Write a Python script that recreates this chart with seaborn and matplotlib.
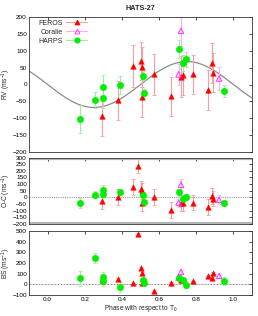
import numpy as np
import pandas as pd
import matplotlib
matplotlib.use("Agg")
import matplotlib.pyplot as plt
from matplotlib.lines import Line2D
import seaborn as sns

# ---------------- data ----------------
feros_phase = [0.295, 0.377, 0.457, 0.486, 0.504, 0.507, 0.509, 0.570, 0.663, 0.716, 0.727, 0.784, 0.861, 0.884, 0.891]
feros_rv    = [-94, -47, 55, 231, 70, 52, -37, 30, -35, 23, 29, 30, -16, 64, 35]
feros_rverr = [59, 58, 61, 50, 57, 60, 58, 61, 58, 60, 59, 58, 59, 60, 58]
feros_oc    = [-26, 3, 79, 237, 66, 45, -42, 3, -95, -42, -40, -40, -70, 13, -10]
feros_bs    = [40, 52, 9, 470, 152, 104, 12, -64, 15, 45, 40, 27, 76, 61, 104]
feros_bserr = [8, 8, 8, 8, 8, 8, 8, 8, 8, 8, 8, 8, 8, 8, 8]

coralie_phase = [0.705, 0.718, 0.923]
coralie_rv    = [30, 159, 18]
coralie_rverr = [30, 45, 35]
coralie_oc    = [-39, 95, -18]
coralie_bs    = [64, 116, 79]
coralie_bserr = [20, 20, 20]

harps_phase = [0.173, 0.255, 0.300, 0.300, 0.391, 0.511, 0.521, 0.707, 0.727, 0.743, 0.950]
harps_rv    = [-103, -46, -8, -40, -2, 26, -26, 106, 63, 75, -19]
harps_rverr = [41, 24, 35, 30, 26, 14, 13, 27, 24, 22, 19]
harps_oc    = [-42, 21, 55, 24, 39, 18, -37, 37, -10, 0, -42]
harps_bs    = [58, 247, 73, 27, -27, 37, 15, 55, 43, -3, 30]
harps_bserr = [70, 45, 45, 40, 45, 25, 20, 30, 30, 35, 35]

model_K = 68.0  # RV semi-amplitude of the circular orbit model (m/s)

title = "HATS-27"
x_ticks = [0.0, 0.2, 0.4, 0.6, 0.8, 1.0]

# ---------------- style ----------------
sns.set_style("white")
plt.rcParams["font.family"] = ["Liberation Sans", "DejaVu Sans"]
plt.rcParams["mathtext.fontset"] = "custom"
plt.rcParams["mathtext.rm"] = "Liberation Sans"
plt.rcParams["mathtext.it"] = "Liberation Sans"

styles = {
    "FEROS":   dict(mcolor="#ff0000", ecolor="#f4a0a0", marker="^", filled=True, size=16),
    "Coralie": dict(mcolor="#ff33ff", ecolor="#ffaaff", marker="^", filled=False, size=16),
    "HARPS":   dict(mcolor="#00ee00", ecolor="#a0eea0", marker="o", filled=True, size=22),
}

def make_df(name, phase, rv, rverr, oc, bs, bserr):
    return pd.DataFrame(dict(inst=name, phase=phase, rv=rv, rverr=rverr,
                             oc=oc, bs=bs, bserr=bserr))

data = pd.concat([
    make_df("FEROS", feros_phase, feros_rv, feros_rverr, feros_oc, feros_bs, feros_bserr),
    make_df("Coralie", coralie_phase, coralie_rv, coralie_rverr, coralie_oc, coralie_bs, coralie_bserr),
    make_df("HARPS", harps_phase, harps_rv, harps_rverr, harps_oc, harps_bs, harps_bserr),
], ignore_index=True)

W, H = 258, 316
fig = plt.figure(figsize=(W / 100, H / 100), dpi=100)

def axes_px(top, bottom, left=29, right=252):
    return fig.add_axes([left / W, 1 - bottom / H, (right - left) / W, (bottom - top) / H])

ax_rv = axes_px(17, 152)
ax_oc = axes_px(157.5, 224)
ax_bs = axes_px(231, 295)

def draw_panel(ax, ycol, ecol, ylim):
    for name in ["FEROS", "Coralie", "HARPS"]:
        st = styles[name]
        d = data[data.inst == name]
        d = d[(d[ycol] >= ylim[0]) & (d[ycol] <= ylim[1])]
        ax.errorbar(d["phase"], d[ycol], yerr=d[ecol], fmt="none",
                    ecolor=st["ecolor"], elinewidth=0.8, capsize=1.2, capthick=0.6, zorder=2)
    for name in ["FEROS", "Coralie", "HARPS"]:
        st = styles[name]
        d = data[data.inst == name]
        d = d[(d[ycol] >= ylim[0]) & (d[ycol] <= ylim[1])]
        if st["filled"]:
            sns.scatterplot(data=d, x="phase", y=ycol, ax=ax, marker=st["marker"],
                            color=st["mcolor"], edgecolor=st["mcolor"], s=st["size"],
                            linewidth=0.3, zorder=3, legend=False)
        else:
            sns.scatterplot(data=d, x="phase", y=ycol, ax=ax, marker=st["marker"],
                            facecolor="none", edgecolor=st["mcolor"], s=st["size"],
                            linewidth=0.7, zorder=3, legend=False)
    ax.set_ylim(*ylim)
    ax.set_xlim(-0.1, 1.1)
    ax.set_xticks(x_ticks)
    ax.set_xlabel("")
    ax.set_ylabel("")
    ax.tick_params(direction="in", top=True, right=True, length=2.2, width=0.5,
                   labelsize=4.6, pad=1.5, colors="black")
    for sp in ax.spines.values():
        sp.set_linewidth(0.6)
        sp.set_color("#333333")

# ---- RV panel ----
model = pd.DataFrame({"phase": np.linspace(-0.1, 1.1, 400)})
model["rv"] = -model_K * np.sin(2 * np.pi * model["phase"])
sns.lineplot(data=model, x="phase", y="rv", ax=ax_rv, color="#8c8c8c", lw=0.9, zorder=1)
draw_panel(ax_rv, "rv", "rverr", (-200, 200))
ax_rv.set_yticks(np.arange(-200, 201, 50))
ax_rv.tick_params(labelbottom=False)
ax_rv.set_ylabel("RV (ms$^{-1}$)", fontsize=4.8)
ax_rv.yaxis.set_label_coords(-0.072, 0.5)
ax_rv.set_title(title, fontsize=5.2, fontweight="bold", pad=5)

handles = []
for name in ["FEROS", "Coralie", "HARPS"]:
    st = styles[name]
    handles.append(Line2D([], [], color=st["ecolor"], lw=0.8, marker=st["marker"],
                          markersize=3.8 if st["marker"] == "o" else 3.5,
                          markerfacecolor=st["mcolor"] if st["filled"] else "none",
                          markeredgecolor=st["mcolor"], markeredgewidth=0.6, label=name))
ax_rv.legend(handles=handles, loc="upper left", bbox_to_anchor=(0.035, 0.99),
             markerfirst=False, frameon=False, fontsize=5.0, handlelength=3.0,
             handletextpad=0.5, labelspacing=0.3, borderaxespad=0.1,
             borderpad=0.1)

# ---- O-C panel ----
ax_oc.axhline(0, color="#999999", lw=0.8, ls=(0, (1, 1)), zorder=1)
ax_oc.axhline(300, color="#b5b5b5", lw=3, zorder=1)
ax_oc.axhline(-200, color="#b5b5b5", lw=3, zorder=1)
draw_panel(ax_oc, "oc", "rverr", (-200, 300))
ax_oc.set_yticks(np.arange(-200, 301, 50))
ax_oc.tick_params(labelbottom=False)
ax_oc.set_ylabel("O-C (ms$^{-1}$)", fontsize=4.8)
ax_oc.yaxis.set_label_coords(-0.072, 0.5)

# ---- BS panel ----
ax_bs.axhline(0, color="#555555", lw=0.5, ls=(0, (2, 1, 0.5, 1)), zorder=1)
draw_panel(ax_bs, "bs", "bserr", (-100, 500))
ax_bs.set_yticks(np.arange(-100, 501, 100))
ax_bs.set_xticklabels([f"{t:.1f}" for t in x_ticks])
ax_bs.set_ylabel("BS (ms$^{-1}$)", fontsize=4.8)
ax_bs.yaxis.set_label_coords(-0.072, 0.5)
ax_bs.set_xlabel("Phase with respect to T$_0$", fontsize=4.8, labelpad=1)

fig.savefig("out.png", dpi=100)
